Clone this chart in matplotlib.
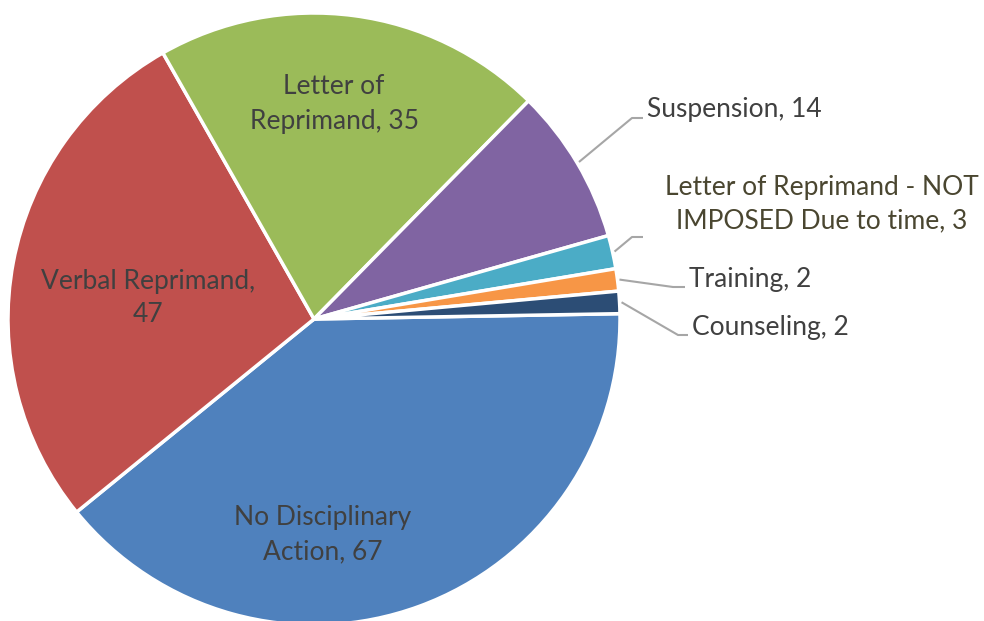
import numpy as np
import matplotlib
matplotlib.use("Agg")
import matplotlib.pyplot as plt

# data
labels = ["No Disciplinary\nAction", "Verbal Reprimand,\n", "Letter of\nReprimand",
          "Suspension", "Letter of Reprimand - NOT\nIMPOSED Due to time",
          "Training", "Counseling"]
values = [67, 47, 35, 14, 3, 2, 2]
colors = ["#4F81BD", "#C0504D", "#9BBB59", "#8064A2", "#4BACC6", "#F79646", "#2C4D75"]

W, H = 984, 621
fig = plt.figure(figsize=(W / 100, H / 100), dpi=100)
ax = fig.add_axes([0, 0, 1, 1])

cx, cy, R = 314, H - 319, 306
wedges, _ = ax.pie(values, colors=colors, startangle=1, counterclock=False,
                   center=(cx, cy), radius=R, frame=True,
                   wedgeprops=dict(edgecolor="white", linewidth=2.5))
ax.set_xlim(0, W)
ax.set_ylim(0, H)
ax.set_aspect("equal")
ax.axis("off")

plt.rcParams["font.family"] = ["Lato", "DejaVu Sans"]
fs = 19
txt = "#404040"
ls = 1.45

# inside labels (x, y in pixel coords from top)
inside = {0: (323, 535), 1: (148, 298), 2: (334, 104)}
for i, (x, y) in inside.items():
    lab = labels[i]
    if lab.endswith(",\n"):
        s = lab + str(values[i])
    else:
        s = lab + ", " + str(values[i])
    ax.text(x, H - y, s, ha="center", va="center", fontsize=fs, color=txt,
            linespacing=ls)

# outside labels with leader lines: elbow point, line end, text anchor, alignment
outside = {
    3: ((632, 118), (643, 118), (647, 110), "left", txt),
    4: ((632, 237), (643, 237), (822, 204), "center", "#4A4630"),
    5: ((673, 287), (685, 287), (689, 280), "left", txt),
    6: ((678, 335), (688, 335), (692, 328), "left", txt),
}
for i, (elb, end, tpos, ha, col) in outside.items():
    w = wedges[i]
    mid = np.deg2rad((w.theta1 + w.theta2) / 2)
    x0 = cx + (R + 2) * np.cos(mid)
    y0 = cy + (R + 2) * np.sin(mid)
    ax.plot([x0, elb[0], end[0]], [y0, H - elb[1], H - end[1]],
            color="#A6A6A6", lw=1.5, solid_capstyle="butt")
    ax.text(tpos[0], H - tpos[1], labels[i] + ", " + str(values[i]),
            ha=ha, va="center", fontsize=fs, color=col, linespacing=ls,
            multialignment="center")

fig.savefig("out.png", dpi=100)
